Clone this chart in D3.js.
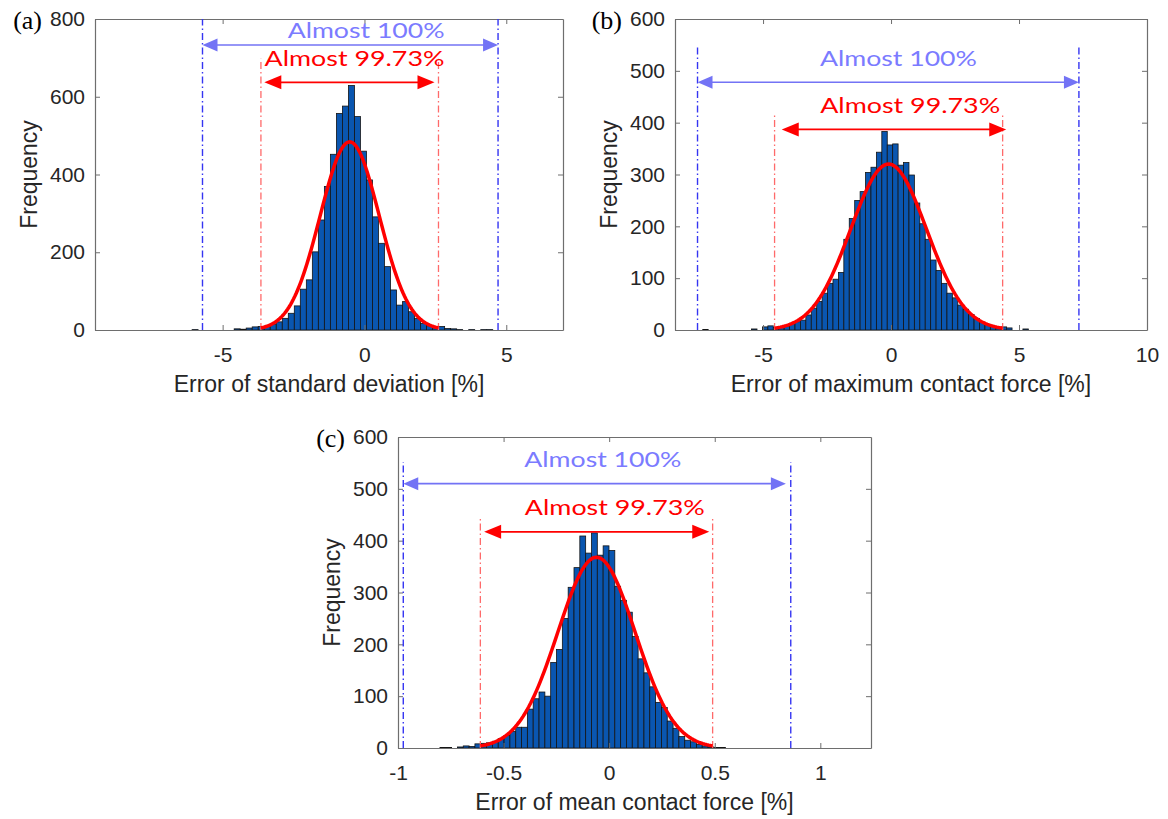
<!doctype html>
<html>
<head>
<meta charset="utf-8">
<title>Histogram of errors</title>
<script src="https://cdn.jsdelivr.net/npm/d3@7"></script>
<style>
  body { margin: 0; background: #fff; }
  text { font-family: "Liberation Sans", Arial, sans-serif; }
</style>
</head>
<body>
<div id="chart"></div>
<script>
// ---------- data ----------
// (a) error of standard deviation [%]
var binStartA = -6.077, binWidthA = 0.212;
var countsA = [1, 0, 0, 0, 0, 0, 0, 3, 2, 5, 8, 9, 10, 15, 21, 30, 43, 62, 105, 129,
               201, 283, 369, 452, 557, 576, 629, 549, 460, 386, 291, 223, 163, 103, 64, 73,
               47, 30, 17, 11, 6, 9, 4, 3, 1, 0, 1, 0, 1, 1];
var fitA = {mean: -0.52, sigma: 1.043, peak: 484};
var rangeAllA = [-5.71, 4.71], range3sA = [-3.65, 2.61];
var xTicksA = [-5, 0, 5], yTicksA = [0, 200, 400, 600, 800];

// (b) error of maximum contact force [%]
var binStartB = -7.356, binWidthB = 0.212;
var countsB = [1, 0, 0, 0, 0, 0, 0, 0, 0, 2, 0, 6, 8, 5, 6, 8, 13, 16, 19, 29,
               42, 55, 71, 90, 98, 111, 175, 215, 250, 267, 304, 314, 343, 383, 357, 359, 318, 323, 299, 245,
               205, 175, 135, 115, 90, 71, 62, 48, 40, 30, 22, 15, 11, 7, 4, 6, 4, 0, 0, 2];
var fitB = {mean: -0.095, sigma: 1.485, peak: 320};
var rangeAllB = [-7.56, 7.34], range3sB = [-4.55, 4.36];
var xTicksB = [-5, 0, 5, 10], yTicksB = [0, 100, 200, 300, 400, 500, 600];

// (c) error of mean contact force [%]
var binStartC = -0.8013, binWidthC = 0.0276;
var countsC = [1, 1, 0, 2, 4, 3, 8, 9, 10, 13, 18, 24, 32, 40, 40, 75, 95, 108, 100, 165,
               190, 250, 310, 348, 409, 376, 415, 372, 390, 381, 312, 285, 262, 215, 172, 145, 118, 88, 78, 52,
               38, 22, 15, 12, 7, 4, 2, 1, 1];
var fitC = {mean: -0.06, sigma: 0.1833, peak: 368};
var rangeAllC = [-0.975, 0.86], range3sC = [-0.61, 0.49];
var xTicksC = [-1, -0.5, 0, 0.5, 1], yTicksC = [0, 100, 200, 300, 400, 500, 600];

var label100 = "Almost 100%", label3s = "Almost 99.73%";

// ---------- layout ----------
var panels = [
  {tag: "(a)", xlabel: "Error of standard deviation [%]",
   counts: countsA, binStart: binStartA, binWidth: binWidthA, fit: fitA,
   all: rangeAllA, s3: range3sA, xTicks: xTicksA, yTicks: yTicksA,
   left: 95, right: 563, top: 19, bottom: 330, xDomain: [-9.5, 7], yDomain: [0, 800],
   allTop: 800, s3Top: 698, allArrow: {y: 733, x: [-5.71, 4.71]}, s3Arrow: {y: 637, x: [-3.53, 2.47]},
   t100: [0.06, 750], t3s: [-0.35, 680]},
  {tag: "(b)", xlabel: "Error of maximum contact force [%]",
   counts: countsB, binStart: binStartB, binWidth: binWidthB, fit: fitB,
   all: rangeAllB, s3: range3sB, xTicks: xTicksB, yTicks: yTicksB,
   left: 675, right: 1147, top: 19, bottom: 330, xDomain: [-8.44, 10], yDomain: [0, 600],
   allTop: 551, s3Top: 419, allArrow: {y: 478, x: [-7.56, 7.34]}, s3Arrow: {y: 387, x: [-4.27, 4.5]},
   t100: [0.29, 509], t3s: [0.75, 418]},
  {tag: "(c)", xlabel: "Error of mean contact force [%]",
   counts: countsC, binStart: binStartC, binWidth: binWidthC, fit: fitC,
   all: rangeAllC, s3: range3sC, xTicks: xTicksC, yTicks: yTicksC,
   left: 398, right: 871, top: 437, bottom: 748, xDomain: [-1, 1.24], yDomain: [0, 600],
   allTop: 552, s3Top: 446, allArrow: {y: 510, x: [-0.975, 0.837]}, s3Arrow: {y: 417, x: [-0.592, 0.474]},
   t100: [-0.03, 541.6], t3s: [0.027, 449.5]}
];

var svg = d3.select("#chart").append("svg")
    .attr("width", 1168)
    .attr("height", 819);

function arrow(g, x, y, a, color, len, half, width) {
  var xa = x(a.x[0]), xb = x(a.x[1]), yy = y(a.y);
  g.append("line")
    .attr("x1", xa + len - 2).attr("x2", xb - len + 2)
    .attr("y1", yy).attr("y2", yy)
    .attr("stroke", color).attr("stroke-width", width);
  g.append("path")
    .attr("d", "M" + xa + "," + yy + "L" + (xa + len) + "," + (yy - half) + "L" + (xa + len) + "," + (yy + half) + "Z")
    .attr("fill", color);
  g.append("path")
    .attr("d", "M" + xb + "," + yy + "L" + (xb - len) + "," + (yy - half) + "L" + (xb - len) + "," + (yy + half) + "Z")
    .attr("fill", color);
}

panels.forEach(function(p) {
  var g = svg.append("g");
  var x = d3.scaleLinear().domain(p.xDomain).range([p.left, p.right]);
  var y = d3.scaleLinear().domain(p.yDomain).range([p.bottom, p.top]);

  // histogram bars
  var bins = p.counts.map(function(c, i) {
    return {x0: p.binStart + i * p.binWidth, x1: p.binStart + (i + 1) * p.binWidth, n: c};
  }).filter(function(d) { return d.n > 0; });

  g.selectAll("rect.bar").data(bins).join("rect")
    .attr("class", "bar")
    .attr("x", function(d) { return x(d.x0); })
    .attr("width", function(d) { return x(d.x1) - x(d.x0); })
    .attr("y", function(d) { return y(d.n); })
    .attr("height", function(d) { return y(0) - y(d.n); })
    .attr("fill", "#0a56b0")
    .attr("stroke", "#141414")
    .attr("stroke-width", 0.8);

  // axes (box with inward ticks)
  var axisColor = "#6e6e6e", textColor = "#262626";
  var bottomAxis = g.append("g").attr("transform", "translate(0," + p.bottom + ")")
    .call(d3.axisBottom(x).tickValues(p.xTicks).tickSizeInner(-5).tickSizeOuter(0).tickPadding(17)
      .tickFormat(function(d) { return String(d); }));
  var topAxis = g.append("g").attr("transform", "translate(0," + p.top + ")")
    .call(d3.axisTop(x).tickValues(p.xTicks).tickSizeInner(-5).tickSizeOuter(0).tickFormat(""));
  var leftAxis = g.append("g").attr("transform", "translate(" + p.left + ",0)")
    .call(d3.axisLeft(y).tickValues(p.yTicks).tickSizeInner(-5).tickSizeOuter(0).tickPadding(10)
      .tickFormat(function(d) { return String(d); }));
  var rightAxis = g.append("g").attr("transform", "translate(" + p.right + ",0)")
    .call(d3.axisRight(y).tickValues(p.yTicks).tickSizeInner(-5).tickSizeOuter(0).tickFormat(""));

  [bottomAxis, topAxis, leftAxis, rightAxis].forEach(function(a) {
    a.select(".domain").attr("stroke", axisColor).attr("stroke-width", 1.2);
    a.selectAll(".tick line").attr("stroke", axisColor);
    a.selectAll(".tick text").attr("fill", textColor)
      .style("font-size", "21px").style("font-family", "'Liberation Sans', Arial, sans-serif");
  });

  // limit lines (dash-dot)
  p.all.forEach(function(v) {
    g.append("line")
      .attr("x1", x(v)).attr("x2", x(v))
      .attr("y1", y(0)).attr("y2", y(p.allTop))
      .attr("stroke", "#3535f2").attr("stroke-width", 1.4)
      .attr("stroke-dasharray", "7,3,1.5,3");
  });
  p.s3.forEach(function(v) {
    g.append("line")
      .attr("x1", x(v)).attr("x2", x(v))
      .attr("y1", y(0)).attr("y2", y(p.s3Top))
      .attr("stroke", "#ff6a6a").attr("stroke-width", 1.3)
      .attr("stroke-dasharray", "7,3,1.5,3");
  });

  // fitted normal curve between mean +/- 3 sigma
  var f = p.fit;
  var xs = d3.range(0, 121).map(function(i) { return f.mean - 3 * f.sigma + i * 6 * f.sigma / 120; });
  g.append("path")
    .datum(xs)
    .attr("fill", "none")
    .attr("stroke", "#ff0000")
    .attr("stroke-width", 3.5)
    .attr("d", d3.line()
      .x(function(d) { return x(d); })
      .y(function(d) { var z = (d - f.mean) / f.sigma; return y(f.peak * Math.exp(-0.5 * z * z)); }));

  // arrows and annotations
  arrow(g, x, y, p.allArrow, "#7373f5", 15, 6.5, 1.6);
  arrow(g, x, y, p.s3Arrow, "#ff0000", 17, 7, 1.6);

  g.append("text")
    .attr("x", x(p.t100[0])).attr("y", y(p.t100[1]))
    .attr("text-anchor", "middle")
    .attr("textLength", 157).attr("lengthAdjust", "spacingAndGlyphs")
    .style("font-family", "Lato, 'Open Sans', sans-serif").style("font-size", "22px")
    .attr("fill", "#7b7bff")
    .text(label100);
  g.append("text")
    .attr("x", x(p.t3s[0])).attr("y", y(p.t3s[1]))
    .attr("text-anchor", "middle")
    .attr("textLength", 180).attr("lengthAdjust", "spacingAndGlyphs")
    .style("font-family", "Lato, 'Open Sans', sans-serif").style("font-size", "22px")
    .attr("fill", "#ff0000")
    .text(label3s);

  // axis labels
  g.append("text")
    .attr("x", (p.left + p.right) / 2).attr("y", p.bottom + 62)
    .attr("text-anchor", "middle")
    .attr("fill", textColor).style("font-size", "23px")
    .text(p.xlabel);
  g.append("text")
    .attr("transform", "translate(" + (p.left - 58) + "," + ((p.top + p.bottom) / 2) + ") rotate(-90)")
    .attr("text-anchor", "middle")
    .attr("fill", textColor).style("font-size", "23px")
    .text("Frequency");

  // panel tag
  g.append("text")
    .attr("x", p.left - 53).attr("y", p.top + 10)
    .attr("text-anchor", "end")
    .attr("fill", "#000")
    .style("font-family", "'Liberation Serif', 'Times New Roman', serif").style("font-size", "26px")
    .text(p.tag);
});
</script>
</body>
</html>
